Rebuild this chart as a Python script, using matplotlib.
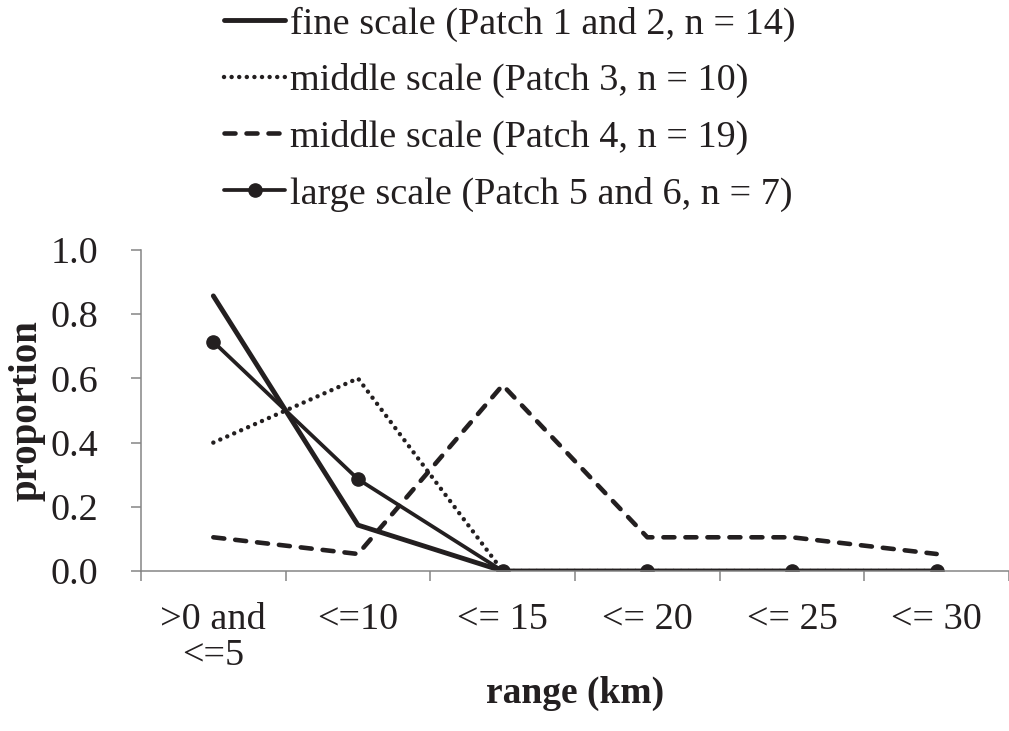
import matplotlib
matplotlib.use('Agg')
import matplotlib.pyplot as plt
import numpy as np

plt.rcParams['font.family'] = ['Liberation Serif', 'DejaVu Serif']

categories = ['>0 and\n<=5', '<=10', '<= 15', '<= 20', '<= 25', '<= 30']
fine = [0.857, 0.143, 0.0, 0.0, 0.0, 0.0]
middle3 = [0.40, 0.60, 0.0, 0.0, 0.0, 0.0]
middle4 = [0.105, 0.053, 0.579, 0.105, 0.105, 0.053]
large = [0.714, 0.286, 0.0, 0.0, 0.0, 0.0]

labels = ['fine scale (Patch 1 and 2, n = 14)',
          'middle scale (Patch 3, n = 10)',
          'middle scale (Patch 4, n = 19)',
          'large scale (Patch 5 and 6, n = 7)']

ink = '#231f20'
axis_col = '#858585'
fs = 27.5

fig = plt.figure(figsize=(10.09, 7.31), dpi=100)
ax = fig.add_axes([141 / 1009, 1 - 571 / 731, 1 - 141 / 1009, (571 - 250) / 731])

x = np.arange(len(categories))

l2, = ax.plot(x, middle3, color=ink, lw=3.2, linestyle=(0, (0.01, 1.7)),
              dash_capstyle='round', solid_capstyle='round')
l3, = ax.plot(x, middle4, color=ink, lw=3.3, linestyle=(0, (2.4, 2.4)),
              dash_capstyle='round')
l1, = ax.plot(x, fine, color=ink, lw=3.5, solid_capstyle='round')
l4, = ax.plot(x, large, color=ink, lw=2.7, marker='o', markersize=9.5,
              solid_capstyle='round')

ax.set_xlim(-0.5, 5.5)
ax.set_ylim(0, 1.0)
yt = np.arange(0, 1.01, 0.2)
ax.set_yticks(yt)
ax.set_yticklabels([f'{v:.1f}' for v in yt])
ax.set_xticks(x)
ax.set_xticklabels(categories, linespacing=1.06)
ax.set_xticks(np.arange(-0.5, 5.6, 1.0), minor=True)

ax.tick_params(axis='x', which='major', length=0, pad=22.5, labelsize=fs, colors=ink)
ax.tick_params(axis='x', which='minor', length=7, width=1.1, color=axis_col)
ax.tick_params(axis='y', length=7, width=1.1, color=axis_col, pad=24,
               labelsize=fs, labelcolor=ink)

for s in ['top', 'right']:
    ax.spines[s].set_visible(False)
for s in ['left', 'bottom']:
    ax.spines[s].set_color(axis_col)
    ax.spines[s].set_linewidth(1.1)
    ax.spines[s].set_clip_on(False)

ax.set_ylabel('proportion', fontsize=28, fontweight='bold', color=ink, labelpad=3)
ax.set_xlabel('range (km)', fontsize=27, fontweight='bold', color=ink, labelpad=2)

fig.legend([l1, l2, l3, l4], labels, loc='upper left',
           bbox_to_anchor=(209 / 1009, 1 + 9 / 731), frameon=False, fontsize=fs,
           handlelength=1.6, handletextpad=0.13, labelspacing=0.565,
           labelcolor=ink, borderaxespad=0)

fig.savefig('out.png', dpi=100)
